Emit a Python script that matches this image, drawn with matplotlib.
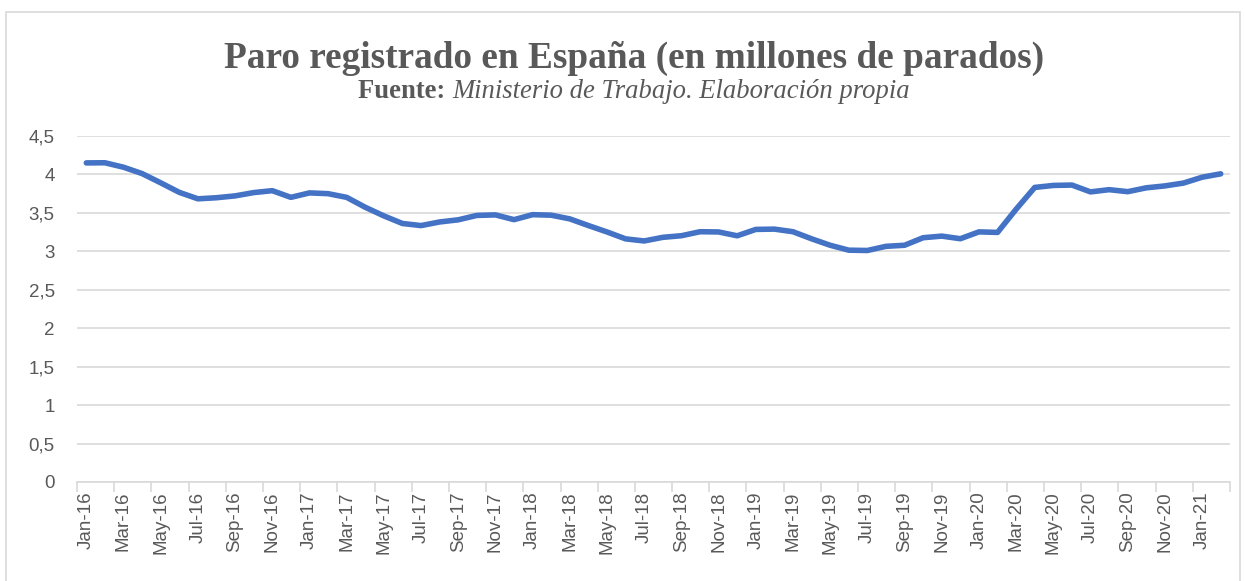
import numpy as np
import matplotlib
matplotlib.use('Agg')
import matplotlib.pyplot as plt
from matplotlib.patches import Rectangle

# Paro registrado, millones de personas (Jan-16 .. Feb-21)
months = ['Jan', 'Feb', 'Mar', 'Apr', 'May', 'Jun', 'Jul', 'Aug', 'Sep', 'Oct', 'Nov', 'Dec']
years = ['16', '17', '18', '19', '20', '21']
dates = [m + '-' + y for y in years for m in months][:62]

paro = [4.150, 4.152, 4.094, 4.011, 3.891, 3.767, 3.683, 3.697, 3.721, 3.764, 3.789, 3.702,
        3.760, 3.750, 3.702, 3.573, 3.461, 3.362, 3.335, 3.382, 3.410, 3.467, 3.474, 3.412,
        3.477, 3.470, 3.422, 3.335, 3.252, 3.162, 3.135, 3.182, 3.203, 3.255, 3.252, 3.202,
        3.285, 3.289, 3.255, 3.163, 3.079, 3.015, 3.011, 3.065, 3.079, 3.177, 3.198, 3.164,
        3.253, 3.246, 3.548, 3.831, 3.857, 3.862, 3.773, 3.802, 3.776, 3.826, 3.851, 3.888,
        3.964, 4.008]

yticks = [0, 0.5, 1, 1.5, 2, 2.5, 3, 3.5, 4, 4.5]
ytick_labels = ['0', '0,5', '1', '1,5', '2', '2,5', '3', '3,5', '4', '4,5']

gray_txt = '#595959'
grid_col = '#d9d9d9'

fig = plt.figure(figsize=(12.45, 5.81), dpi=100)
ax = fig.add_axes([77/1245, 1-482/581, (1230-77)/1245, (482-136)/581])

x = np.arange(len(paro))
ax.plot(x, paro, color='#4472C4', lw=4, solid_capstyle='round', solid_joinstyle='round', zorder=3)

ax.set_xlim(-0.5, len(paro) - 0.5)
ax.set_ylim(0, 4.5)
ax.set_yticks(yticks)
ax.set_yticklabels(ytick_labels, fontsize=13.5, color=gray_txt, family='Liberation Sans')
ax.tick_params(axis='y', length=0, pad=16)
ax.yaxis.grid(True, color=grid_col, lw=1.2)
ax.set_axisbelow(True)

# labels every 2 months centred on the month, tick marks at month boundaries
ax.set_xticks(x[::2])
ax.set_xticklabels(dates[::2], rotation=90, fontsize=13.5, color=gray_txt, family='Liberation Sans')
ax.set_xticks(np.arange(-0.5, len(paro), 2), minor=True)
ax.tick_params(axis='x', which='major', length=0, pad=7)
ax.tick_params(axis='x', which='minor', length=7, width=1.2, color=grid_col)

for s in ['top', 'right', 'left']:
    ax.spines[s].set_visible(False)
ax.spines['bottom'].set_color(grid_col)
ax.spines['bottom'].set_linewidth(1.2)

# outer chart border
fig.patches.append(Rectangle((6/1245, -0.05), 1234/1245, 1.05 - 12/581, transform=fig.transFigure,
                             fill=False, edgecolor='#d9d9d9', lw=1.2))

cx = 634 / 1245
fig.text(cx, 1-58/581, 'Paro registrado en España (en millones de parados)', ha='center', va='center',
         fontsize=26.8, fontweight='bold', color=gray_txt, family='Liberation Serif')

# subtitle: bold part + italic part, centred together
t1 = fig.text(0, 1-92/581, 'Fuente: ', ha='left', va='center', fontsize=19.2,
              fontweight='bold', color=gray_txt, family='Liberation Serif')
t2 = fig.text(0, 1-92/581, 'Ministerio de Trabajo. Elaboración propia', ha='left', va='center',
              fontsize=19.2, style='italic', color=gray_txt, family='Liberation Serif')
r = fig.canvas.get_renderer()
w1 = t1.get_window_extent(r).width
w2 = t2.get_window_extent(r).width
x0 = 634 - (w1 + w2) / 2
t1.set_x(x0 / 1245)
t2.set_x((x0 + w1) / 1245)

fig.savefig('out.png', dpi=100)
